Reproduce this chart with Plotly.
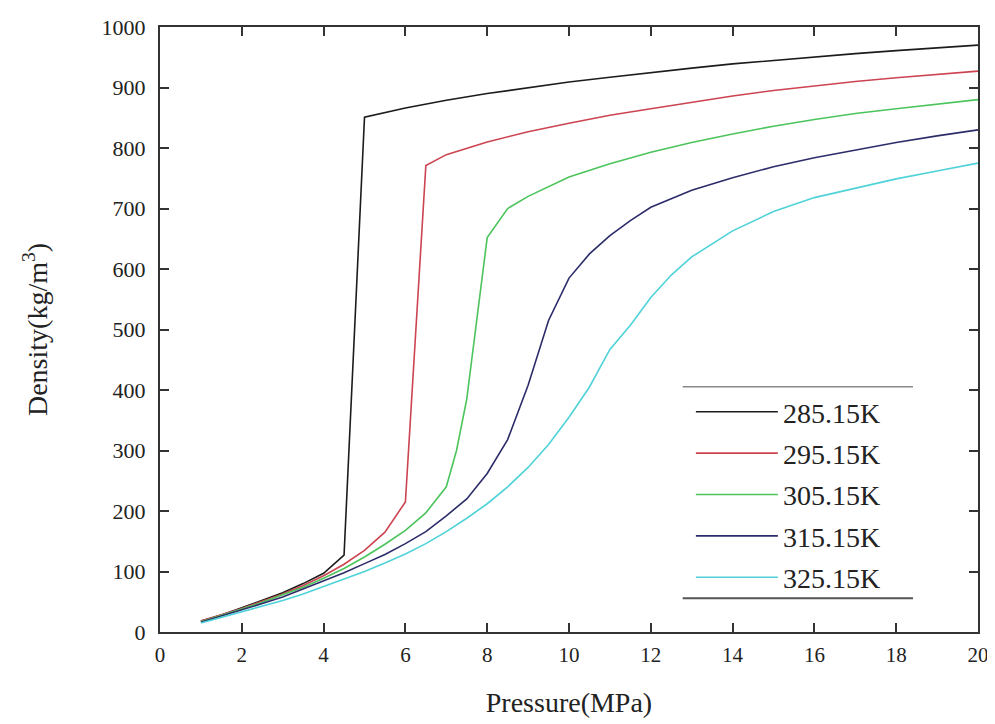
import plotly.graph_objects as go

# ---- data ----
series_names = ["285.15K", "295.15K", "305.15K", "315.15K", "325.15K"]

p_285 = [1, 1.5, 2, 2.5, 3, 3.5, 4, 4.5, 5, 6, 7, 8, 9, 10, 11, 12, 13, 14, 15, 16, 17, 18, 19, 20]
d_285 = [18, 28, 40, 52, 65, 80, 97, 127, 851, 866, 879, 890, 900, 909, 917, 925, 932, 939, 945, 951, 956, 961, 966, 970]

p_295 = [1, 1.5, 2, 2.5, 3, 3.5, 4, 4.5, 5, 5.5, 6, 6.5, 7, 8, 9, 10, 11, 12, 13, 14, 15, 16, 17, 18, 19, 20]
d_295 = [18, 28, 39, 51, 63, 77, 93, 112, 135, 165, 215, 771, 789, 810, 827, 841, 854, 865, 876, 886, 895, 903, 910, 916, 922, 927]

p_305 = [1, 1.5, 2, 2.5, 3, 3.5, 4, 4.5, 5, 5.5, 6, 6.5, 7, 7.25, 7.5, 7.75, 8, 8.5, 9, 10, 11, 12, 13, 14, 15, 16, 17, 18, 19, 20]
d_305 = [17, 27, 38, 49, 61, 74, 89, 105, 124, 145, 168, 197, 240, 300, 385, 520, 652, 700, 720, 752, 774, 793, 809, 823, 836, 847, 857, 865, 873, 880]

p_315 = [1, 1.5, 2, 2.5, 3, 3.5, 4, 4.5, 5, 5.5, 6, 6.5, 7, 7.5, 8, 8.5, 9, 9.5, 10, 10.5, 11, 11.5, 12, 13, 14, 15, 16, 17, 18, 19, 20]
d_315 = [16, 26, 36, 47, 58, 71, 84, 98, 113, 128, 146, 166, 192, 220, 262, 318, 408, 515, 585, 625, 655, 680, 702, 730, 751, 769, 784, 797, 809, 820, 830]

p_325 = [1, 1.5, 2, 2.5, 3, 3.5, 4, 4.5, 5, 5.5, 6, 6.5, 7, 7.5, 8, 8.5, 9, 9.5, 10, 10.5, 11, 11.5, 12, 12.5, 13, 14, 15, 16, 17, 18, 19, 20]
d_325 = [15, 24, 33, 42, 52, 63, 75, 87, 100, 114, 129, 146, 166, 188, 212, 240, 272, 310, 355, 405, 467, 507, 553, 590, 620, 663, 695, 718, 734, 749, 762, 775]

x_ticks = [0, 2, 4, 6, 8, 10, 12, 14, 16, 18, 20]
y_ticks = [0, 100, 200, 300, 400, 500, 600, 700, 800, 900, 1000]

# ---- styling ----
colors = ["#1c1c1c", "#cc4450", "#4cc45c", "#2c2c6a", "#4fd2d8"]
serif = "Liberation Serif"
txt = "#222222"

fig = go.Figure()
for name, px_, dy, c in zip(series_names,
                            [p_285, p_295, p_305, p_315, p_325],
                            [d_285, d_295, d_305, d_315, d_325],
                            colors):
    fig.add_trace(go.Scatter(x=px_, y=dy, mode="lines", name=name,
                             legendgroup=name,
                             line=dict(color=c, width=1.6)))

axis_common = dict(
    showgrid=False, zeroline=False, showline=True, linecolor="#333333", linewidth=2,
    mirror="ticks", ticks="inside", ticklen=9, tickwidth=2, tickcolor="#333333",
    automargin=False,
)

fig.update_xaxes(range=[0, 20], tickvals=x_ticks, ticktext=[str(v) for v in x_ticks],
                 tickfont=dict(family=serif, size=21, color=txt), ticklabelstandoff=3,
                 ticklabeloverflow="allow",
                 title=dict(text="Pressure(MPa)", font=dict(family=serif, size=28, color=txt), standoff=26),
                 **axis_common)
fig.update_yaxes(range=[0, 1000], tickvals=y_ticks, ticktext=[str(v) for v in y_ticks],
                 tickfont=dict(family=serif, size=22, color=txt), ticklabelstandoff=8,
                 title=dict(text="Density(kg/m<sup>3</sup>)", font=dict(family=serif, size=28, color=txt), standoff=46),
                 **axis_common)

# The page body adds an 8 px offset; compensate so the plot area sits where the reference's does.
fig.update_layout(
    width=987, height=716,
    margin=dict(l=152, r=17, t=19, b=92),
    paper_bgcolor="white", plot_bgcolor="white",
    showlegend=True,
    legend=dict(x=0.649, y=0.405, xanchor="left", yanchor="top",
                bgcolor="rgba(0,0,0,0)", borderwidth=0,
                font=dict(family=serif, size=28, color=txt),
                tracegroupgap=2, itemwidth=82),
    shapes=[
        dict(type="line", xref="paper", yref="paper", x0=0.639, x1=0.9205, y0=0.4055, y1=0.4055,
             line=dict(color="#888888", width=1.5)),
        dict(type="line", xref="paper", yref="paper", x0=0.639, x1=0.9205, y0=0.0557, y1=0.0557,
             line=dict(color="#555555", width=2)),
    ],
)

fig.write_html("out.html")
